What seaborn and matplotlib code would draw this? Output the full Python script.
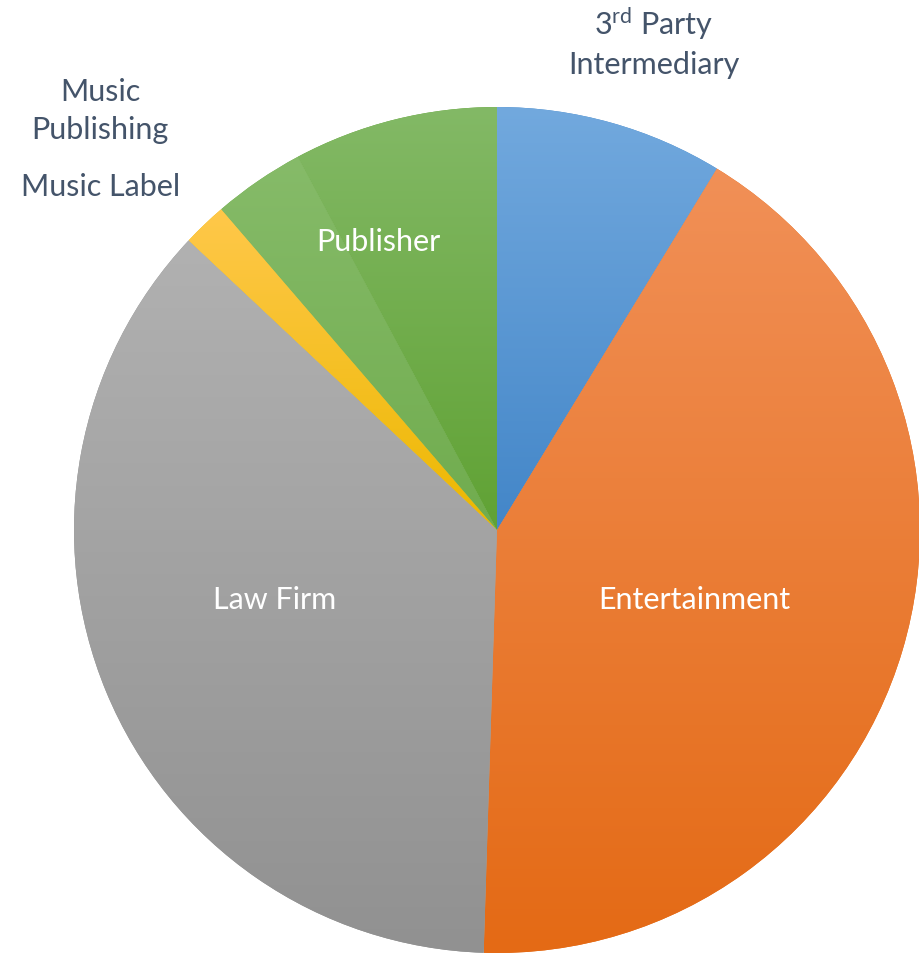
import numpy as np
import seaborn as sns
import matplotlib.pyplot as plt

# slice shares (in % of the pie), clockwise from 12 o'clock
categories = ["3rd Party Intermediary", "Entertainment", "Law Firm",
              "Music Label", "Music Publishing", "Publisher"]
shares = [8.7, 41.8, 36.5, 1.7, 3.5, 7.8]

# top / bottom colour of each slice's gradient
top_colors = ["#72A9DE", "#F19057", "#B1B1B1", "#FFC84A", "#86BB69", "#83B966"]
bottom_colors = ["#4386C8", "#E46A15", "#919191", "#ECB800", "#70AC4E", "#60A234"]

sns.set_style("white")
plt.rcParams["font.family"] = ["Lato", "DejaVu Sans"]
plt.rcParams["mathtext.fontset"] = "custom"
plt.rcParams["mathtext.rm"] = "Lato"

W, H = 920, 955
fig = plt.figure(figsize=(W / 100, H / 100), dpi=100)
ax = fig.add_axes([0, 0, 1, 1])
ax.set_xlim(0, W)
ax.set_ylim(0, H)
ax.axis("off")

cx, cy, r = 497, H - 530, 423
wedges, _ = ax.pie(shares, startangle=90, counterclock=False, radius=r,
                   center=(cx, cy), colors=bottom_colors,
                   wedgeprops=dict(linewidth=0))
ax.set_xlim(0, W)
ax.set_ylim(0, H)
ax.set_aspect("equal")

grad = np.linspace(0, 1, 256).reshape(-1, 1)
for w, c0, c1 in zip(wedges, top_colors, bottom_colors):
    cmap = sns.blend_palette([c0, c1], as_cmap=True)
    bb = w.get_path().get_extents(w.get_patch_transform())
    im = ax.imshow(grad, cmap=cmap, aspect="auto", origin="upper",
                   extent=(bb.x0, bb.x1, bb.y0, bb.y1), zorder=2,
                   interpolation="bilinear")
    im.set_clip_path(w)

outside = "#44546A"
fs = 22
ax.text(654, H - 42, "3$^{\\rm rd}$ Party\nIntermediary", ha="center", va="center",
        color=outside, fontsize=fs, linespacing=1.38, zorder=5)
ax.text(100, H - 111, "Music\nPublishing", ha="center", va="center",
        color=outside, fontsize=fs, linespacing=1.4, zorder=5)
ax.text(101, H - 187, "Music Label", ha="center", va="center",
        color=outside, fontsize=fs, zorder=5)
ax.text(378, H - 242, "Publisher", ha="center", va="center",
        color="white", fontsize=fs, zorder=5)
ax.text(275, H - 600, "Law Firm", ha="center", va="center",
        color="white", fontsize=fs, zorder=5)
ax.text(694, H - 600, "Entertainment", ha="center", va="center",
        color="white", fontsize=fs, zorder=5)

fig.savefig("out.png", dpi=100)
